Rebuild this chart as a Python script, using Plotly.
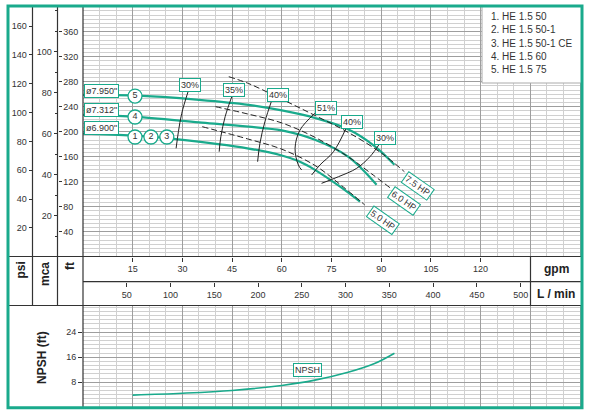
import plotly.graph_objects as go

W, H = 589, 415
TEAL = '#1aaa8c'
INK = '#333333'
FONT = 'Liberation Sans, Arial, sans-serif'

# head curves (gpm -> ft)
q5 = [0, 15, 35, 50, 60, 70, 80, 88, 94]
h5 = [259, 258, 251, 243, 234, 222, 204, 177, 147]
q4 = [0, 15, 35, 50, 60, 70, 80, 88.6]
h4 = [227, 224, 215, 208, 202, 187, 160, 115]
q1 = [0, 15, 28, 50, 60, 65, 70, 77.6, 83.6]
h1 = [197, 194, 188, 173, 162, 153, 139, 112, 88]

# iso-efficiency lines
eff_names = ['30%', '35%', '40%', '51%', '40%', '30%']
eff_q = [[31.8, 29.8, 28.8, 28.1],
         [44.9, 42.9, 41.6, 41.1],
         [57, 54.9, 53.4, 52.7],
         [70, 65.5, 64, 65, 66],
         [79.6, 75.6, 71.5, 69],
         [89.6, 86.6, 82.6, 77.1, 72]]
eff_h = [[265.6, 229.4, 200, 173.4],
         [256, 224, 192, 168],
         [250.7, 216, 181.4, 152],
         [229.4, 202.7, 173.4, 146.7, 138.7],
         [208, 168, 146.7, 130.7],
         [181.4, 160, 141.4, 128, 117.4]]
eff_lbl_q = [32.3, 45.6, 58.9, 73.3, 81.3, 91.2]
eff_lbl_h = [274, 266, 258.7, 238, 215.5, 190]

# motor power limit lines
hp_names = ['7.5 HP', '6.0 HP', '5.0 HP']
hp_q = [[44, 50, 60, 70, 80, 90, 97],
        [40, 50, 60, 70, 80, 87, 93],
        [36, 50, 60, 70, 78, 85]]
hp_h = [[288, 277, 252, 226, 199, 166, 136],
        [240, 228, 214, 191, 160, 133, 109],
        [208, 188, 172, 146, 114, 83]]
hp_lbl_q = [101.1, 96.9, 90.4]
hp_lbl_h = [113.8, 89, 58.7]

# impeller diameter tags
dia_names = ['ø7.950"', 'ø7.312"', 'ø6.900"']
dia_h = [265, 234.7, 206.4]

# numbered circles on curves
circ_txt = ['5', '4', '1', '2', '3']
circ_q = [15.7, 15.7, 15.7, 20.5, 25.3]
circ_h = [257, 223.5, 191.5, 191.5, 191.5]

# NPSH curve
npsh_q = [15, 30, 45, 60, 70, 80, 88, 94]
npsh_v = [3.9, 4.5, 5.4, 7.0, 8.7, 11.2, 14.0, 17.3]

models = ['1. HE 1.5 50', '2. HE 1.5 50-1', '3. HE 1.5 50-1 CE',
          '4. HE 1.5 60', '5. HE 1.5 75']

gpm_ticks = [15, 30, 45, 60, 75, 90, 105, 120]
lmin_ticks = [50, 100, 150, 200, 250, 300, 350, 400, 450, 500]
psi_ticks = [20, 40, 60, 80, 100, 120, 140, 160]
mca_ticks = [20, 40, 60, 80, 100]
ft_ticks = [40, 80, 120, 160, 200, 240, 280, 320, 360]
npsh_ticks = [8, 16, 24]


def fx(p):
    return p / W


def fy(p):
    return 1 - p / H


Q_MAX = (582 - 83) * 15 / 49.7
H_MAX = (256.7 - 6) * 1.6
N_MAX = (407.3 - 305.5) * 8 / 25
XDOM = [fx(83), fx(582)]

fig = go.Figure()

for q, h in [(q5, h5), (q4, h4), (q1, h1)]:
    fig.add_trace(go.Scatter(x=q, y=h, mode='lines', line=dict(color=TEAL, width=2.2, shape='spline'),
                             showlegend=False, hoverinfo='skip'))
for q, h in zip(eff_q, eff_h):
    fig.add_trace(go.Scatter(x=q, y=h, mode='lines', line=dict(color='#222', width=1, shape='spline'),
                             showlegend=False, hoverinfo='skip'))
for q, h in zip(hp_q, hp_h):
    fig.add_trace(go.Scatter(x=q, y=h, mode='lines',
                             line=dict(color='#222', width=1, dash='6px,3px', shape='spline'),
                             showlegend=False, hoverinfo='skip'))
fig.add_trace(go.Scatter(x=circ_q, y=circ_h, mode='markers+text', text=circ_txt,
                         textposition='middle center', textfont=dict(size=9, color=INK, family=FONT),
                         marker=dict(size=14, color='white', line=dict(color=TEAL, width=1.3)),
                         showlegend=False, hoverinfo='skip'))
fig.add_trace(go.Scatter(x=npsh_q, y=npsh_v, mode='lines', xaxis='x4', yaxis='y2',
                         line=dict(color=TEAL, width=1.6, shape='spline'),
                         showlegend=False, hoverinfo='skip'))
# empty traces so the extra scale axes get drawn
for xa, ya in [('x2', 'y'), ('x3', 'y'), ('x', 'y3'), ('x', 'y4'), ('x', 'y5')]:
    fig.add_trace(go.Scatter(x=[None], y=[None], xaxis=xa, yaxis=ya, mode='markers',
                             showlegend=False, hoverinfo='skip'))

tickfont = dict(size=9, color=INK, family=FONT)
grid_major = dict(showgrid=True, gridcolor='#9e9e9e', gridwidth=1.3)
grid_minor = dict(showgrid=True, gridcolor='#d0d0d0', gridwidth=1)

fig.update_layout(
    width=W, height=H, margin=dict(l=0, r=0, t=0, b=0),
    paper_bgcolor='white', plot_bgcolor='white',
    font=dict(family=FONT, color=INK),
    xaxis=dict(domain=XDOM, range=[0, Q_MAX], anchor='y', tick0=0, dtick=15, ticks='',
               showticklabels=False, zeroline=False, showline=False,
               minor=dict(dtick=5, **grid_minor), **grid_major),
    yaxis=dict(domain=[fy(256.7), fy(6)], range=[0, H_MAX], anchor='x', tick0=0, dtick=40, ticks='',
               showticklabels=False, zeroline=False, showline=False,
               minor=dict(dtick=40 / 6, **grid_minor), **grid_major),
    xaxis2=dict(overlaying='x', anchor='free', position=fy(256.5), range=[0, Q_MAX],
                tickvals=gpm_ticks, ticks='outside', ticklen=4, tickcolor=INK,
                showgrid=False, zeroline=False, showline=False, tickfont=tickfont),
    xaxis3=dict(overlaying='x', anchor='free', position=fy(281.7), range=[0, Q_MAX * 3.78541],
                tickvals=lmin_ticks, ticks='outside', ticklen=4, tickcolor=INK,
                showgrid=False, zeroline=False, showline=False, tickfont=tickfont),
    yaxis3=dict(overlaying='y', anchor='free', position=fx(32.5), side='left',
                range=[0, H_MAX / 2.30666], tickvals=psi_ticks, ticks='outside', ticklen=4,
                tickcolor=INK, showgrid=False, zeroline=False, showline=False, tickfont=tickfont),
    yaxis4=dict(overlaying='y', anchor='free', position=fx(57.5), side='left',
                range=[0, H_MAX / 3.28084], tickvals=mca_ticks, ticks='outside', ticklen=4,
                tickcolor=INK, showgrid=False, zeroline=False, showline=False, tickfont=tickfont,
                minor=dict(dtick=10, ticks='outside', ticklen=3, tickcolor=INK, showgrid=False)),
    yaxis5=dict(overlaying='y', anchor='free', position=fx(57.5), side='right',
                range=[0, H_MAX], tickvals=ft_ticks, ticks='outside', ticklen=3,
                tickcolor=INK, showgrid=False, zeroline=False, showline=False, tickfont=tickfont),
    xaxis4=dict(domain=XDOM, range=[0, Q_MAX], anchor='y2', tick0=0, dtick=15, ticks='',
                showticklabels=False, zeroline=False, showline=False,
                minor=dict(dtick=5, **grid_minor), **grid_major),
    yaxis2=dict(domain=[fy(407.3), fy(305.5)], range=[0, N_MAX], anchor='x4',
                tickvals=npsh_ticks, ticks='outside', ticklen=4, tickcolor=INK, tickfont=tickfont,
                zeroline=False, showline=False,
                minor=dict(tick0=0, dtick=8 / 6, **grid_minor), **grid_major),
)

# table lines and frame
shapes = [dict(type='rect', xref='paper', yref='paper', x0=fx(482), x1=fx(582), y0=fy(83), y1=fy(6),
               fillcolor='white', line=dict(color='#aaaaaa', width=1))]
blk = dict(color='#333333', width=1.2)
for x0, x1, y in [(8, 582, 256.5), (83, 582, 281.7), (8, 582, 305.5)]:
    shapes.append(dict(type='line', xref='paper', yref='paper', x0=fx(x0), x1=fx(x1),
                       y0=fy(y), y1=fy(y), line=blk))
for x, y0, y1 in [(32.5, 6, 305.5), (57.5, 6, 305.5), (83, 6, 407.5), (530.5, 256.5, 305.5)]:
    shapes.append(dict(type='line', xref='paper', yref='paper', x0=fx(x), x1=fx(x),
                       y0=fy(y0), y1=fy(y1), line=blk))
shapes.append(dict(type='rect', xref='paper', yref='paper', x0=fx(8), x1=fx(582), y0=fy(407.8), y1=fy(6),
                   line=dict(color=TEAL, width=3)))
fig.update_layout(shapes=shapes)

ann = []
box = dict(bgcolor='white', bordercolor=TEAL, borderwidth=1, borderpad=1, showarrow=False,
           font=dict(size=9, color=INK, family=FONT))
for t, q, h in zip(eff_names, eff_lbl_q, eff_lbl_h):
    ann.append(dict(text=t, x=q, y=h, xref='x', yref='y', **box))
for t, q, h in zip(hp_names, hp_lbl_q, hp_lbl_h):
    ann.append(dict(text=t, x=q, y=h, xref='x', yref='y', textangle=35, **box))
for t, h in zip(dia_names, dia_h):
    ann.append(dict(text=t, x=0.4, y=h, xref='x', yref='y', xanchor='left', **box))
ann.append(dict(text='NPSH', x=67.9, y=11.9, xref='x4', yref='y2', **box))

for i, m in enumerate(models):
    ann.append(dict(text=m, x=fx(489), y=fy(16.7 + i * 13.2), xref='paper', yref='paper',
                    xanchor='left', yanchor='middle', showarrow=False,
                    font=dict(size=10, color=INK, family=FONT)))

bold = dict(size=12, color='#222', family='Liberation Sans, Arial Black, sans-serif')
for t, x in [('<b>psi</b>', 20), ('<b>mca</b>', 45), ('<b>ft</b>', 70)]:
    ann.append(dict(text=t, x=fx(x), y=fy(260), xref='paper', yref='paper', textangle=-90,
                    xanchor='center', yanchor='top', showarrow=False, font=bold))
ann.append(dict(text='<b>gpm</b>', x=fx(556), y=fy(268.5), xref='paper', yref='paper',
                xanchor='center', yanchor='middle', showarrow=False, font=bold))
ann.append(dict(text='<b>L / min</b>', x=fx(556), y=fy(293.5), xref='paper', yref='paper',
                xanchor='center', yanchor='middle', showarrow=False, font=bold))
ann.append(dict(text='<b>NPSH (ft)</b>', x=fx(42), y=fy(358), xref='paper', yref='paper',
                xanchor='center', yanchor='middle', textangle=-90, showarrow=False, font=bold))
fig.update_layout(annotations=ann)

fig.write_html('out.html', config={'displayModeBar': False},
               post_script="document.body.style.margin='0';document.body.style.overflow='hidden';")
